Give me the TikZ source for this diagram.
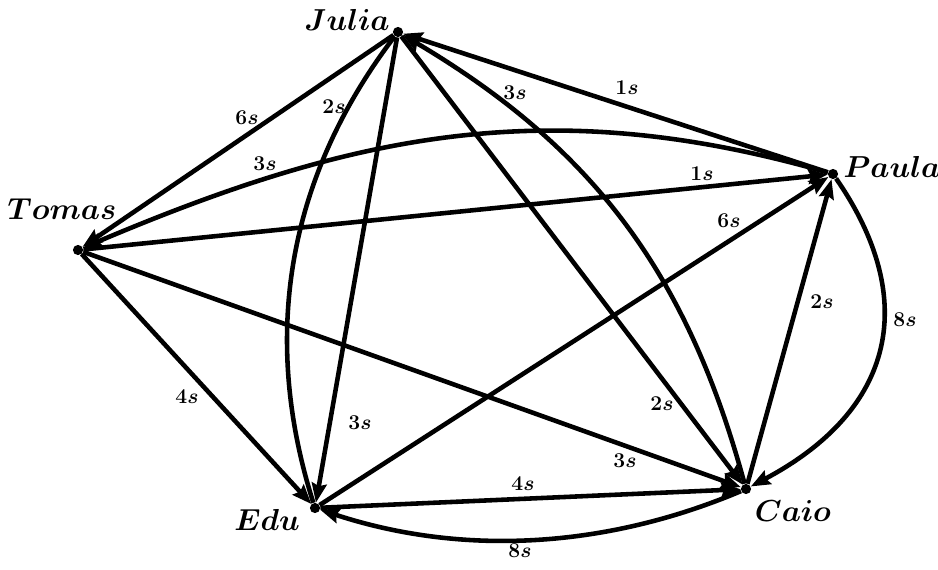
\documentclass[tikz,border=0pt]{standalone}
\usepackage{amsmath}
\usetikzlibrary{arrows.meta}
\begin{document}
\begin{tikzpicture}[x=0.02cm,y=-0.02cm,
  vtx/.style={circle,fill=black,inner sep=0pt,minimum size=5.8pt},
  edge/.style={line width=2.6pt,-{Stealth[length=11pt,width=8.5pt,inset=1.5pt]}},
  plain/.style={line width=2.6pt},
  vname/.style={font=\fontsize{16}{19}\selectfont,inner sep=0pt},
  wt/.style={font=\fontsize{12}{14}\selectfont,inner sep=0pt}]
\useasboundingbox (0,0) rectangle (938,569);
% vertices
\node[vtx] (J) at (398,32) {};
\node[vtx] (P) at (833,174) {};
\node[vtx] (T) at (78,250) {};
\node[vtx] (E) at (315,508) {};
\node[vtx] (C) at (746,489) {};
% names
\node[vname] (nJ) at (347,20) {$\boldsymbol{Julia}$};
\node[vname] (nP) at (892,167) {$\boldsymbol{Paula}$};
\node[vname] (nT) at (62,209) {$\boldsymbol{Tomas}$};
\node[vname] (nE) at (267,520) {$\boldsymbol{Edu}$};
\node[vname] (nC) at (793,511) {$\boldsymbol{Caio}$};
% edges
\draw[edge] (J) -- (T);
\draw[edge] (P) .. controls (548,92) and (352,134) .. (T);
\draw[edge] (T) -- (P);
\draw[edge] (P) -- (J);
\draw[plain] (J) .. controls (288,176) and (260,335) .. (E);
\draw[edge] (J) -- (E);
\draw[edge] (C) .. controls (687,272) and (592,147) .. (J);
\draw[edge] (J) -- (C);
\draw[edge] (E) -- (P);
\draw[edge] (C) -- (P);
\draw[edge] (P) .. controls (920,300) and (895,410) .. (C);
\draw[edge] (T) -- (E);
\draw[edge] (T) -- (C);
\draw[edge] (E) -- (C);
\draw[edge] (C) .. controls (604,549) and (461,556) .. (E);
% weights
\node[wt] (w1) at (247,118) {$\boldsymbol{6s}$};
\node[wt] (w2) at (334,107) {$\boldsymbol{2s}$};
\node[wt] (w3) at (265,164) {$\boldsymbol{3s}$};
\node[wt] (w4) at (627,88) {$\boldsymbol{1s}$};
\node[wt] (w5) at (515,93) {$\boldsymbol{3s}$};
\node[wt] (w6) at (702,174) {$\boldsymbol{1s}$};
\node[wt] (w7) at (729,221) {$\boldsymbol{6s}$};
\node[wt] (w8) at (822,302) {$\boldsymbol{2s}$};
\node[wt] (w9) at (905,320) {$\boldsymbol{8s}$};
\node[wt] (w10) at (187,397) {$\boldsymbol{4s}$};
\node[wt] (w11) at (360,423) {$\boldsymbol{3s}$};
\node[wt] (w12) at (662,404) {$\boldsymbol{2s}$};
\node[wt] (w13) at (625,461) {$\boldsymbol{3s}$};
\node[wt] (w14) at (523,484) {$\boldsymbol{4s}$};
\node[wt] (w15) at (520,551) {$\boldsymbol{8s}$};
\end{tikzpicture}
\end{document}
